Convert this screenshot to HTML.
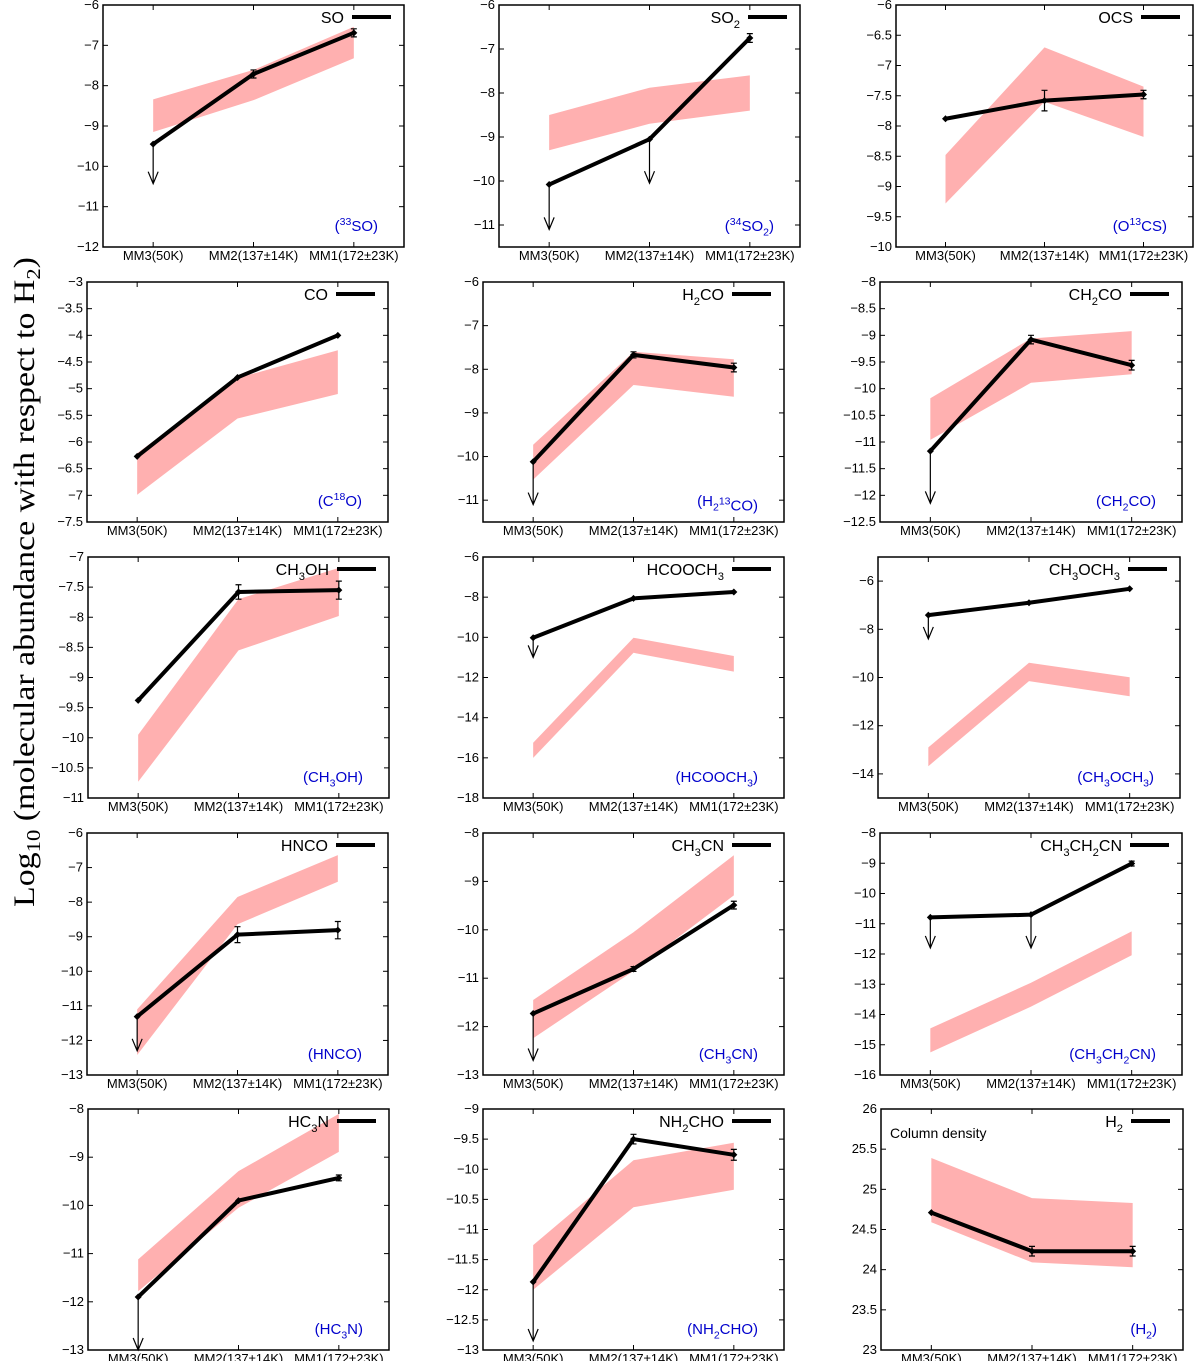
<!DOCTYPE html>
<html><head><meta charset="utf-8">
<style>
html,body{margin:0;padding:0;background:#fff;}
svg{display:block;}
text{font-family:"Liberation Sans",sans-serif;}
</style></head>
<body>
<svg id="fig" width="1200" height="1361" viewBox="0 0 1200 1361" xmlns="http://www.w3.org/2000/svg">
<text transform="translate(34,582) rotate(-90)" text-anchor="middle" style="font-family:'Liberation Serif',serif;font-size:30px;" textLength="650" lengthAdjust="spacingAndGlyphs">Log<tspan font-size="20" dy="6">10</tspan><tspan dy="-6"> (molecular abundance with respect to H</tspan><tspan font-size="20" dy="6">2</tspan><tspan dy="-6">)</tspan></text>
</svg>
<script>
// ---- chart data ----
const categories = ["MM3(50K)", "MM2(137±14K)", "MM1(172±23K)"];
const species = ["SO","SO_2","OCS","CO","H_2CO","CH_2CO","CH_3OH","HCOOCH_3","CH_3OCH_3","HNCO","CH_3CN","CH_3CH_2CN","HC_3N","NH_2CHO","H_2"];
const isotopologues = ["(^{33}SO)","(^{34}SO_2)","(O^{13}CS)","(C^{18}O)","(H_2^{13}CO)","(CH_2CO)","(CH_3OH)","(HCOOCH_3)","(CH_3OCH_3)","(HNCO)","(CH_3CN)","(CH_3CH_2CN)","(HC_3N)","(NH_2CHO)","(H_2)"];
const lineValues = [
 [-9.45,-7.71,-6.69],[-10.08,-9.05,-6.75],[-7.88,-7.58,-7.48],
 [-6.27,-4.79,-4.0],[-10.12,-7.67,-7.96],[-11.17,-9.08,-9.56],
 [-9.38,-7.58,-7.55],[-10.02,-8.06,-7.74],[-7.41,-6.9,-6.32],
 [-11.31,-8.94,-8.81],[-11.73,-10.81,-9.49],[-10.79,-10.7,-9.01],
 [-11.9,-9.9,-9.43],[-11.87,-9.5,-9.76],[24.71,24.23,24.23]];
const bandHigh = [
 [-8.34,-7.61,-6.54],[-8.5,-7.88,-7.6],[-8.48,-6.7,-7.35],
 [-6.21,-4.8,-4.28],[-9.73,-7.6,-7.77],[-10.18,-9.06,-8.92],
 [-9.95,-7.7,-7.18],[-15.25,-10.02,-10.93],[-12.9,-9.39,-9.99],
 [-11.1,-7.85,-6.64],[-11.45,-10.05,-8.46],[-14.46,-12.95,-11.25],
 [-11.12,-9.29,-8.1],[-11.26,-9.85,-9.56],[25.39,24.89,24.83]];
const bandLow = [
 [-9.15,-8.36,-7.32],[-9.3,-8.7,-8.4],[-9.28,-7.6,-8.18],
 [-6.99,-5.56,-5.1],[-10.53,-8.36,-8.63],[-10.96,-9.89,-9.73],
 [-10.73,-8.55,-7.98],[-16.0,-10.77,-11.71],[-13.68,-10.15,-10.78],
 [-12.42,-8.64,-7.41],[-12.24,-10.85,-9.29],[-15.25,-13.74,-12.04],
 [-11.78,-10.05,-8.89],[-12.0,-10.63,-10.34],[24.59,24.09,24.03]];
const errorBars = [
 [0,0.1,0.1],[0,0,0.1],[0,0.17,0.07],
 [0,0,0],[0,0.07,0.1],[0,0.08,0.09],
 [0,0.12,0.15],[0,0,0],[0,0,0],
 [0,0.23,0.25],[0,0.05,0.08],[0,0,0.08],
 [0,0,0.06],[0,0.08,0.09],[0,0.06,0.06]];
const arrowTo = [
 [-10.43,null,null],[-11.1,-10.05,null],[null,null,null],
 [null,null,null],[-11.1,null,null],[-12.15,null,null],
 [null,null,null],[-11.0,null,null],[-8.4,null,null],
 [-12.3,null,null],[-12.7,null,null],[-11.8,-11.8,null],
 [-13.0,null,null],[-12.85,null,null],[null,null,null]];
const yMin = [-12,-11.5,-10,-7.5,-11.5,-12.5,-11,-18,-15,-13,-13,-16,-13,-13,23];
const yMax = [-6,-6,-6,-3,-6,-8,-7,-6,-5,-6,-8,-8,-8,-9,26];
const yStep = [1,1,0.5,0.5,1,0.5,0.5,2,2,1,1,1,1,0.5,0.5];
const yFirstTick = [-12,-11,-10,-7.5,-11,-12.5,-11,-18,-14,-13,-13,-16,-13,-13,23];
// ---- layout ----
const frameLeft = [103,499,896, 87,483,880, 88,483,878, 87,483,880, 88,483,881];
const frameWidth = [301,301,297, 301,301,302, 301,301,302, 301,301,302, 301,301,302];
const rowTop = [5,282,557,833,1109];
const rowBottom = [247,522,798,1075,1350];

const NS = "http://www.w3.org/2000/svg";
const svg = document.getElementById('fig');
function mk(tag, attrs, parent){ const e=document.createElementNS(NS,tag); for(const k in attrs) e.setAttribute(k,attrs[k]); (parent||svg).appendChild(e); return e; }
function richText(t, str, fs){
  let i=0; let shift=0;
  while(i<str.length){
    let c=str[i];
    if(c==='_'||c==='^'){
      let s=''; i++;
      if(str[i]==='{'){ i++; while(str[i]!=='}'){ s+=str[i]; i++; } i++; }
      else { s=str[i]; i++; }
      const dy = c==='_'? fs*0.3 : -fs*0.4;
      const sp=mk('tspan',{dy:dy,'font-size':fs*0.7},t); sp.textContent=s;
      shift=-dy;
    } else {
      let s=''; while(i<str.length && str[i]!=='_' && str[i]!=='^'){ s+=str[i]; i++; }
      const sp=mk('tspan',shift?{dy:shift}:{},t); sp.textContent=s; shift=0;
    }
  }
}
function fmt(v){ let s=(Math.round(v*10)/10).toString(); return s.replace('-','\u2212'); }

for(let p=0;p<species.length;p++){
  const row=Math.floor(p/3);
  const L=frameLeft[p], W=frameWidth[p], T=rowTop[row], B=rowBottom[row], R=L+W;
  const g=mk('g',{});
  
  
  const xs=i=>L+W*(i+0.5)/3;
  const ys=v=>B-(v-yMin[p])/(yMax[p]-yMin[p])*(B-T);
  let pts=[]; for(let i=0;i<3;i++) pts.push(xs(i)+','+ys(bandHigh[p][i]));
  for(let i=2;i>=0;i--) pts.push(xs(i)+','+ys(bandLow[p][i]));
  const band=mk('polygon',{points:pts.join(' '),fill:'#ffb0b0',stroke:'none'},g);
  
  
  const fr=mk('rect',{x:L,y:T,width:W,height:B-T,fill:'none',stroke:'#000','stroke-width':1.5},g);
  
  
  for(let v=yFirstTick[p]; v<=yMax[p]+1e-6; v+=yStep[p]){
    const y=ys(v);
    mk('line',{x1:L,x2:L+5,y1:y,y2:y,stroke:'#000','stroke-width':1},g);
    mk('line',{x1:R,x2:R-5,y1:y,y2:y,stroke:'#000','stroke-width':1},g);
    const tl=mk('text',{x:L-4,y:y+4,'text-anchor':'end','font-size':13},g);
    tl.textContent=fmt(v);
    
    
  }
  for(let i=0;i<3;i++){
    const x=xs(i);
    mk('line',{x1:x,x2:x,y1:B,y2:B-5,stroke:'#000','stroke-width':1},g);
    mk('line',{x1:x,x2:x,y1:T,y2:T+5,stroke:'#000','stroke-width':1},g);
    const xl=mk('text',{x:x,y:B+13,'text-anchor':'middle','font-size':13},g);
    xl.textContent=categories[i];
    
    
  }
  for(let i=0;i<3;i++){
    if(arrowTo[p][i]===null) continue;
    const x=xs(i), y0=ys(lineValues[p][i]), y1=ys(arrowTo[p][i]);
    const ar=mk('path',{d:`M${x},${y0}L${x},${y1}M${x-5},${y1-12}L${x},${y1}L${x+5},${y1-12}`,fill:'none',stroke:'#000','stroke-width':1.2},g);
    
    
  }
  let lp=[]; for(let i=0;i<3;i++) lp.push(xs(i)+','+ys(lineValues[p][i]));
  const ln=mk('polyline',{points:lp.join(' '),fill:'none',stroke:'#000','stroke-width':4,'stroke-linejoin':'round'},g);
  
  
  for(let i=0;i<3;i++){
    const x=xs(i), y=ys(lineValues[p][i]);
    const pt=mk('path',{d:`M${x-3.5},${y}L${x},${y-3.5}L${x+3.5},${y}L${x},${y+3.5}Z`,fill:'#000'},g);
    
    
    const e=errorBars[p][i];
    if(e>0){
      const ya=ys(lineValues[p][i]+e), yb=ys(lineValues[p][i]-e);
      const eb=mk('path',{d:`M${x},${ya}L${x},${yb}M${x-3},${ya}L${x+3},${ya}M${x-3},${yb}L${x+3},${yb}`,stroke:'#000','stroke-width':1.2,fill:'none'},g);
      
      
    }
  }
  const lt=mk('text',{x:R-60,y:T+18,'text-anchor':'end','font-size':16},g);
  richText(lt,species[p],16);
  
  
  const ls=mk('line',{x1:R-52,x2:R-13,y1:T+12,y2:T+12,stroke:'#000','stroke-width':4},g);
  
  
  const il=mk('text',{x:R-26,y:B-16,'text-anchor':'end','font-size':15,fill:'#0000cc'},g);
  richText(il,isotopologues[p],15);
  
  
  if(p===14){
    const cd=mk('text',{x:L+9,y:T+29,'font-size':14},g);
    cd.textContent='Column density';
    
    
  }
}
</script>
</body></html>
